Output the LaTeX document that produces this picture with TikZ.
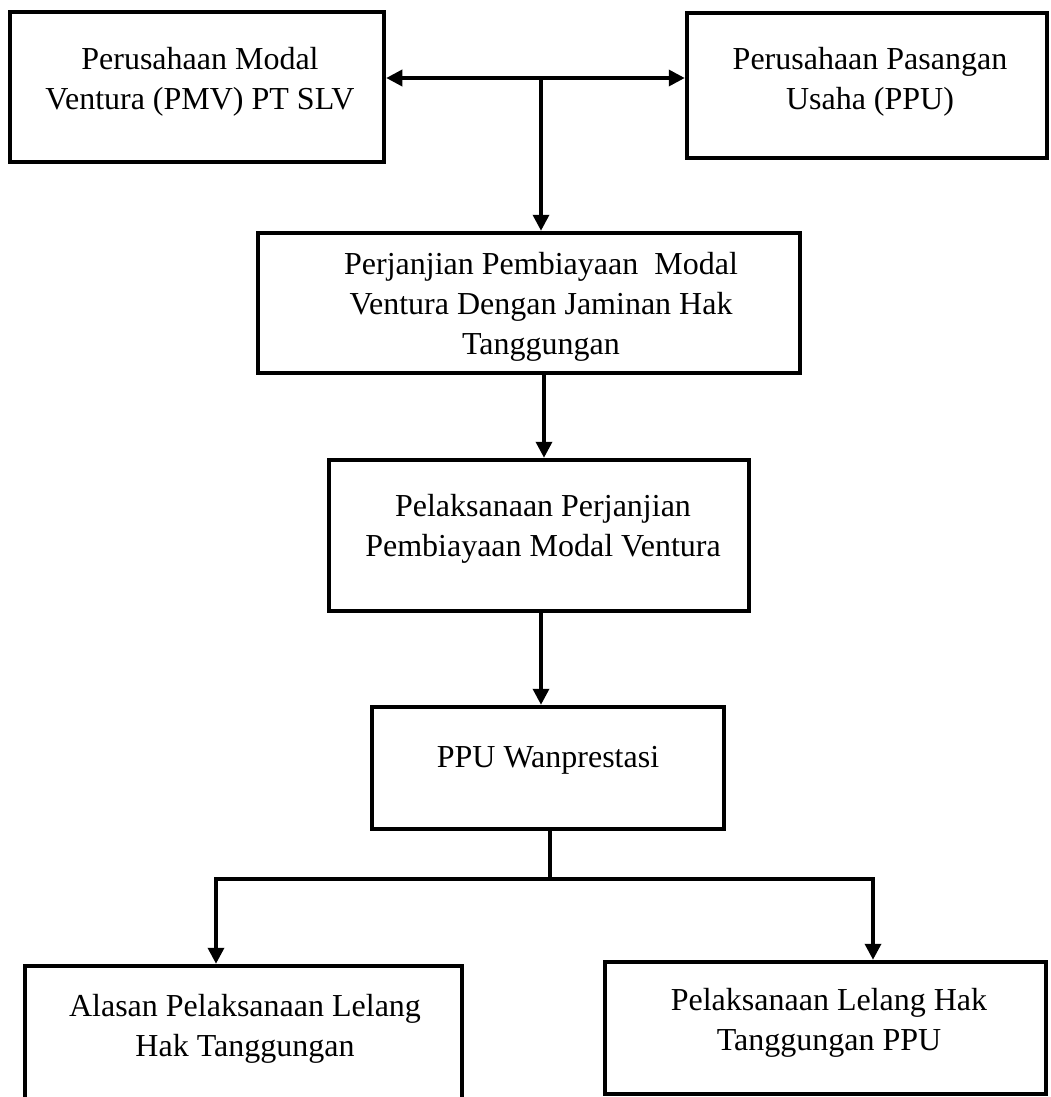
\documentclass[tikz,border=0pt]{standalone}
\usepackage{fontspec}
\setmainfont{Liberation Serif}
\usetikzlibrary{arrows.meta}
\begin{document}
\begin{tikzpicture}[x=1pt,y=-1pt,
  boxnode/.style={draw, line width=4.5pt, rectangle, inner sep=0pt},
  txt/.style={align=center, font=\fontsize{32}{40}\selectfont, inner sep=0pt},
  conn/.style={line width=3.5pt, line join=miter},
  tip/.tip={Triangle[length=16pt,width=16pt]},
  arr/.style={conn, -tip}]
\useasboundingbox (0,0) rectangle (1051,1097);
\clip (0,0) rectangle (1051,1097);
% boxes
\node[boxnode, minimum width=374pt, minimum height=150pt] (b1) at (197,87) {};
\node[boxnode, minimum width=360pt, minimum height=145pt] (b2) at (867,85.5) {};
\node[boxnode, minimum width=542pt, minimum height=140pt] (b3) at (529,303) {};
\node[boxnode, minimum width=420pt, minimum height=151pt] (b4) at (539,535.5) {};
\node[boxnode, minimum width=352pt, minimum height=122pt] (b5) at (548,768) {};
\node[boxnode, minimum width=437pt, minimum height=150pt] (b6) at (243.5,1041) {};
\node[boxnode, minimum width=441pt, minimum height=132pt] (b7) at (825.5,1028) {};
% texts
\node[txt] (t1) at (200,82) {Perusahaan Modal\\Ventura (PMV) PT SLV};
\node[txt] (t2) at (870,82) {Perusahaan Pasangan\\Usaha (PPU)};
\node[txt] (t3) at (541,307) {Perjanjian Pembiayaan~ Modal\\Ventura Dengan Jaminan Hak\\Tanggungan};
\node[txt] (t4) at (543,529) {Pelaksanaan Perjanjian\\Pembiayaan Modal Ventura};
\node[txt] (t5) at (548,760) {PPU Wanprestasi};
\node[txt] (t6) at (245,1029) {Alasan Pelaksanaan Lelang\\Hak Tanggungan};
\node[txt] (t7) at (829,1023) {Pelaksanaan Lelang Hak\\Tanggungan PPU};
% junction coordinates
\coordinate (j1) at (541,78);
\coordinate (j2) at (550,879);
\coordinate (jl) at (216,879);
\coordinate (jr) at (873,879);
% connectors
\draw[conn, tip-tip] (b1.east |- j1) -- (b2.west |- j1);
\draw[arr] (j1) -- (j1 |- b3.north);
\draw[arr] ([xshift=15pt]b3.south) -- ([xshift=15pt]b3.south |- b4.north);
\draw[arr] ([xshift=2pt]b4.south) -- ([xshift=2pt]b4.south |- b5.north);
\draw[conn] ([xshift=2pt]b5.south) -- (j2);
\draw[conn, tip-tip] (jl |- b6.north) -- (jl) -- (jr) -- (jr |- b7.north);
\end{tikzpicture}
\end{document}
